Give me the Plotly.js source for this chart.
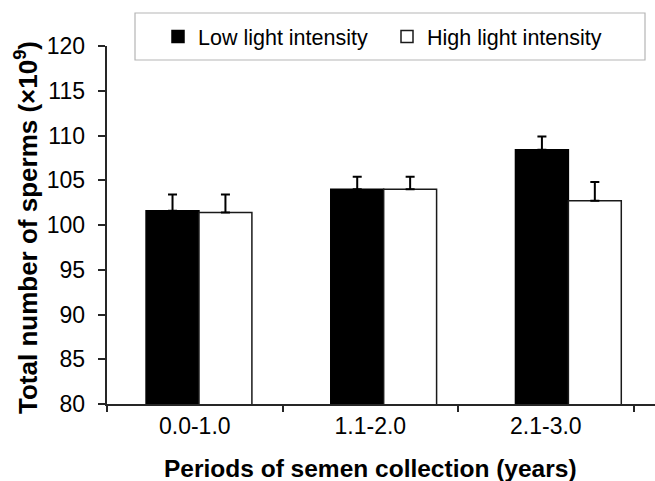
<!DOCTYPE html>
<html>
<head>
<meta charset="utf-8">
<script src="https://cdn.plot.ly/plotly-3.0.1.min.js"></script>
<style>html,body{margin:0;padding:0;background:#fff;}#chart{width:655px;height:481px;}</style>
</head>
<body>
<div id="chart"></div>
<script>
const periods = ["0.0-1.0", "1.1-2.0", "2.1-3.0"];
const lowIntensity = [101.6, 104.0, 108.4];
const lowError = [1.8, 1.4, 1.5];
const highIntensity = [101.4, 104.0, 102.7];
const highError = [2.0, 1.4, 2.1];
const zeros = [0, 0, 0];
const yTitle = "<b>Total number of sperms (×10<sup>9</sup>)</b>";
const xTitle = "<b>Periods of semen collection (years)</b>";

const FONT = "Liberation Sans, Arial, sans-serif";
const AX = "#262626";
// paper area (margins) and plot area in pixels
const PL = 85, PR = 655, T = 46, B = 404;
const PW = PR - PL, H = B - T;
const AXIS_X = 107;
const px = v => (v - PL) / PW;
const py = v => (B - v) / H;

const traces = [
  {
    type: "bar", name: "Low light intensity", x: periods, y: lowIntensity,
    xaxis: "x2", yaxis: "y",
    marker: {color: "#000000", line: {color: "#000000", width: 1.5}},
    error_y: {type: "data", symmetric: false, array: lowError, arrayminus: zeros,
              color: "#000000", thickness: 2, width: 4.5}
  },
  {
    type: "bar", name: "High light intensity", x: periods, y: highIntensity,
    xaxis: "x2", yaxis: "y",
    marker: {color: "#ffffff", line: {color: "#1a1a1a", width: 1.5}},
    error_y: {type: "data", symmetric: false, array: highError, arrayminus: zeros,
              color: "#000000", thickness: 2, width: 4.5}
  },
  {
    type: "scatter", mode: "markers", x: periods, y: periods.map(() => null),
    xaxis: "x", yaxis: "y", showlegend: false, hoverinfo: "skip"
  },
  {
    type: "scatter", mode: "markers", x: periods, y: periods.map(() => null),
    xaxis: "x", yaxis: "y2", showlegend: false, hoverinfo: "skip"
  }
];

const layout = {
  width: 655, height: 481,
  margin: {l: PL, r: 655 - PR, t: T, b: 481 - B},
  paper_bgcolor: "#ffffff", plot_bgcolor: "#ffffff",
  font: {family: FONT, color: "#000000", size: 20},
  barmode: "group", bargap: 0.427, bargroupgap: 0,
  showlegend: true,
  legend: {
    orientation: "h", x: px(158), xanchor: "left", y: py(36.5), yanchor: "middle",
    bgcolor: "rgba(0,0,0,0)", borderwidth: 0,
    font: {family: FONT, size: 21.5, color: "#000000"},
    entrywidth: 184, entrywidthmode: "pixels", traceorder: "normal"
  },
  xaxis: {
    domain: [px(AXIS_X), 1],
    type: "category", categoryorder: "array", categoryarray: periods,
    range: [-0.5, 2.622], tickson: "boundaries",
    showline: true, linecolor: AX, linewidth: 2,
    ticks: "outside", ticklen: 6, tickwidth: 2, tickcolor: AX,
    showgrid: false, zeroline: false,
    tickfont: {family: FONT, size: 23, color: "#000000"},
    fixedrange: true
  },
  xaxis2: {
    type: "category", overlaying: "x", range: [-0.498, 2.469],
    visible: false, showgrid: false, zeroline: false, fixedrange: true
  },
  yaxis: {
    range: [80, 120], tickmode: "linear", tick0: 80, dtick: 5,
    showline: true, linecolor: AX, linewidth: 2,
    ticks: "outside", ticklen: 7, tickwidth: 2, tickcolor: AX,
    showticklabels: false,
    showgrid: false, zeroline: false, fixedrange: true
  },
  yaxis2: {
    overlaying: "y", anchor: "free", position: 0, side: "left",
    range: [80, 120], tickmode: "linear", tick0: 80, dtick: 5,
    showline: false, ticks: "", showgrid: false, zeroline: false,
    tickfont: {family: FONT, size: 23, color: "#000000"},
    fixedrange: true
  },
  annotations: [
    {
      text: yTitle, xref: "paper", yref: "paper",
      x: px(26), y: py(228), xanchor: "center", yanchor: "middle",
      textangle: -90, showarrow: false,
      font: {family: FONT, size: 26, color: "#000000"}
    },
    {
      text: xTitle, xref: "paper", yref: "paper",
      x: px(370), y: py(468), xanchor: "center", yanchor: "middle",
      showarrow: false,
      font: {family: FONT, size: 24.5, color: "#000000"}
    }
  ],
  shapes: [{
    type: "rect", xref: "paper", yref: "paper",
    x0: px(135), x1: px(645), y0: py(60), y1: py(13),
    line: {color: "#b5b5b5", width: 1.2}, fillcolor: "rgba(0,0,0,0)", layer: "below"
  }]
};

Plotly.newPlot("chart", traces, layout, {displayModeBar: false, staticPlot: true});
</script>
</body>
</html>
